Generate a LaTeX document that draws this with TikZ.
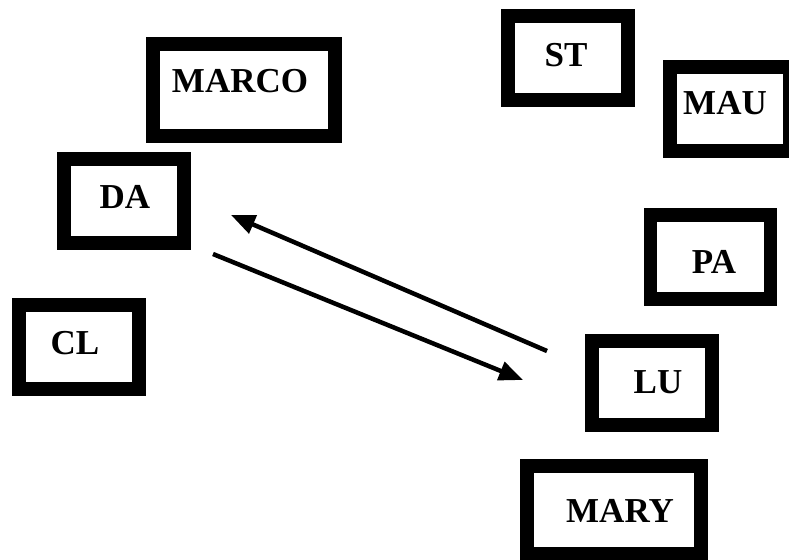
\documentclass[tikz,border=0pt]{standalone}
\usepackage{fontspec}
\setmainfont{Liberation Serif}
\usetikzlibrary{arrows.meta}
\begin{document}
\begin{tikzpicture}[x=1pt,y=-1pt,
  box/.style={draw=black,line width=13.5pt,rectangle,inner sep=0pt,minimum width=120pt,minimum height=84pt},
  lbl/.style={anchor=base,inner sep=0pt,font=\bfseries\fontsize{35}{40}\selectfont},
  conn/.style={line width=4.5pt,-{Triangle[length=24pt,width=19pt]}}]
\useasboundingbox[fill=white] (0,0) rectangle (789,559);
% boxes
\node[box,minimum width=182pt,minimum height=92pt] (marco) at (244,90) {};
\node[box] (da) at (124,200.75) {};
\node[box] (cl) at (79,346.75) {};
\node[box] (st) at (568,58) {};
\node[box] (mau) at (730,109) {};
\node[box] (pa) at (710.5,257) {};
\node[box] (lu) at (652,383) {};
\node[box,minimum width=174pt,minimum height=88pt] (mary) at (614,510) {};
% labels
\node[lbl] (marcot) at (240,93) {MARCO};
\node[lbl] (dat) at (125,208) {DA};
\node[lbl] (clt) at (75,354) {CL};
\node[lbl] (stt) at (566,67) {ST};
\node[lbl] (maut) at (725,114) {MAU};
\node[lbl] (pat) at (714,273) {PA};
\node[lbl] (lut) at (658,393) {LU};
\node[lbl] (maryt) at (620,522) {MARY};
% arrows
\coordinate (a1s) at (547,351);
\coordinate (a1e) at (231,215);
\coordinate (a2s) at (213,254);
\coordinate (a2e) at (523,380);
\draw[conn] (a1s) -- (a1e);
\draw[conn] (a2s) -- (a2e);
\end{tikzpicture}
\end{document}
